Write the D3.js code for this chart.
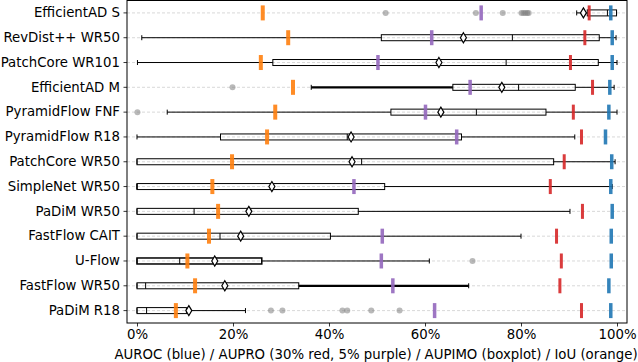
<!DOCTYPE html>
<html>
<head>
<meta charset="utf-8">
<script src="https://cdn.jsdelivr.net/npm/d3@7"></script>
<style>
	body { margin: 0; background: #fff; }
	svg { display: block; font-family: "DejaVu Sans", sans-serif; }
</style>
</head>
<body>
<div id="chart"></div>
<script>
// models, top to bottom
var models = ['EfficientAD S', 'RevDist++ WR50', 'PatchCore WR101', 'EfficientAD M', 'PyramidFlow FNF',
	'PyramidFlow R18', 'PatchCore WR50', 'SimpleNet WR50', 'PaDiM WR50', 'FastFlow CAIT',
	'U-Flow', 'FastFlow WR50', 'PaDiM R18'];

// image level metrics (%)
var auroc   = [98.7, 99.0, 99.0, 98.5, 98.3, 97.6, 98.9, 98.7, 99.0, 98.8, 98.8, 98.3, 98.7];
var aupro30 = [94.2, 93.3, 90.3, 94.9, 90.9, 92.6, 89.0, 86.1, 92.8, 87.4, 88.4, 88.1, 92.6];
var aupro5  = [71.7, 61.4, 50.2, 69.4, 60.1, 66.6, null, 45.2, null, 51.1, 50.9, 53.3, 62.0];
var iou     = [26.2, 31.5, 25.8, 32.5, 28.8, 27.1, 19.8, 15.7, 16.9, 15.0, 10.5, 12.1, 8.1];

// aupimo boxplot stats (%)
var whiskLo = [91.6, 1.0, 0.1, 36.3, 6.3, 0.0, 0.0, 0.0, 0.0, 0.0, 0.0, 0.0, 0.0];
var q1      = [93.8, 50.9, 28.3, 65.8, 52.9, 17.4, 0.0, 0.0, 0.0, 0.0, 0.0, 0.0, 0.0];
var median  = [98.0, 78.2, 76.9, 79.5, 70.7, 43.8, 46.8, 0.0, 11.9, 17.3, 8.9, 1.8, 2.0];
var q3      = [99.9, 96.3, 96.1, 91.3, 85.2, 67.6, 86.8, 51.6, 46.1, 40.3, 26.0, 33.7, 10.3];
var whiskHi = [99.9, 99.8, 100, 99.4, 100, 91.2, 99.6, 99.0, 90.2, 80.0, 60.9, 69.1, 22.6];
var means   = [93.0, 68.0, 62.9, 76.0, 63.3, 44.6, 44.8, 28.1, 23.3, 21.6, 16.2, 18.3, 10.8];
var outliers = [
	[51.8, 70.6, 76.2, 80.1, 80.5, 80.9, 81.3, 81.6],
	[], [], [19.9], [0.1], [], [], [], [], [], [69.9], [],
	[27.9, 30.3, 42.8, 43.8, 48.8, 54.7]
];

var xTicks = [0, 20, 40, 60, 80, 100];

var margin = { top: 0.5, right: 11, bottom: 39, left: 127 };
var width  = 638 - margin.left - margin.right;
var height = 323 - margin.top;

var svg = d3.select('#chart').append('svg')
	.attr('width', 638)
	.attr('height', 362)
	.append('g')
	.attr('transform', 'translate(' + margin.left + ',' + margin.top + ')');

var x = d3.scaleLinear()
	.domain([-2.08, 102.08])
	.range([0, width]);

var y = d3.scaleBand()
	.domain(models)
	.range([0, height]);

var cy = function(i) { return y(models[i]) + y.bandwidth() / 2; };

// thick line bits that show in the original
var thickLo = { 'EfficientAD M': true };
var thickHi = { 'FastFlow WR50': true };

// grid
svg.selectAll('.grid').data(models).enter().append('line')
	.attr('x1', 0).attr('x2', width)
	.attr('y1', function(d, i) { return cy(i); })
	.attr('y2', function(d, i) { return cy(i); })
	.attr('stroke', '#b0b0b0')
	.attr('stroke-width', 0.8)
	.attr('stroke-dasharray', '3,2')
	.attr('opacity', 0.6);

// outliers
models.forEach(function(m, i) {
	svg.selectAll('.out' + i).data(outliers[i]).enter().append('circle')
		.attr('cx', function(d) { return x(d); })
		.attr('cy', cy(i))
		.attr('r', 3)
		.attr('fill', '#808080')
		.attr('opacity', 0.55);
});

// boxplots
var bh = 6;
var box = svg.selectAll('.box').data(models).enter().append('g');

box.append('line')
	.attr('x1', function(d, i) { return x(whiskLo[i]); })
	.attr('x2', function(d, i) { return x(q1[i]); })
	.attr('y1', function(d, i) { return cy(i); })
	.attr('y2', function(d, i) { return cy(i); })
	.attr('stroke', '#000')
	.attr('stroke-width', function(d) { return thickLo[d] ? 2.2 : 1; });

box.append('line')
	.attr('x1', function(d, i) { return x(q3[i]); })
	.attr('x2', function(d, i) { return x(whiskHi[i]); })
	.attr('y1', function(d, i) { return cy(i); })
	.attr('y2', function(d, i) { return cy(i); })
	.attr('stroke', '#000')
	.attr('stroke-width', function(d) { return thickHi[d] ? 2.2 : 1; });

// caps
[whiskLo, whiskHi].forEach(function(arr) {
	box.append('line')
		.attr('x1', function(d, i) { return x(arr[i]); })
		.attr('x2', function(d, i) { return x(arr[i]); })
		.attr('y1', function(d, i) { return cy(i) - 2.5; })
		.attr('y2', function(d, i) { return cy(i) + 2.5; })
		.attr('stroke', '#000')
		.attr('stroke-width', 1);
});

box.append('rect')
	.attr('x', function(d, i) { return x(q1[i]); })
	.attr('width', function(d, i) { return x(q3[i]) - x(q1[i]); })
	.attr('y', function(d, i) { return cy(i) - bh / 2; })
	.attr('height', bh)
	.attr('fill', 'none')
	.attr('stroke', '#000')
	.attr('stroke-width', function(d) { return d === 'U-Flow' ? 1.5 : 1; });

box.append('line')
	.attr('x1', function(d, i) { return x(median[i]); })
	.attr('x2', function(d, i) { return x(median[i]); })
	.attr('y1', function(d, i) { return cy(i) - bh / 2; })
	.attr('y2', function(d, i) { return cy(i) + bh / 2; })
	.attr('stroke', '#000')
	.attr('stroke-width', 1);

// metric markers
var metrics = [
	{ vals: iou, color: '#ff7f0e', w: 4 },
	{ vals: aupro5, color: '#9467bd', w: 3.5 },
	{ vals: aupro30, color: '#d62728', w: 3 },
	{ vals: auroc, color: '#1f77b4', w: 3.5 }
];

metrics.forEach(function(mt) {
	svg.selectAll(null).data(models).enter()
		.filter(function(d, i) { return mt.vals[i] != null; })
		.append('rect')
		.attr('x', function(d) { return x(mt.vals[models.indexOf(d)]) - mt.w / 2; })
		.attr('y', function(d) { return cy(models.indexOf(d)) - 7.5; })
		.attr('width', mt.w)
		.attr('height', 15)
		.attr('fill', mt.color)
		.attr('opacity', 0.9);
});

// means
svg.selectAll('.mean').data(models).enter().append('path')
	.attr('d', 'M0,-5L3,0L0,5L-3,0Z')
	.attr('transform', function(d, i) { return 'translate(' + x(means[i]) + ',' + cy(i) + ')'; })
	.attr('fill', '#fff')
	.attr('stroke', '#000')
	.attr('stroke-width', 1.2);

// axes
var yAxis = svg.append('g')
	.call(d3.axisLeft(y).tickSizeInner(3.5).tickSizeOuter(0).tickPadding(3.5));
var xAxis = svg.append('g')
	.attr('transform', 'translate(0,' + height + ')')
	.call(d3.axisBottom(x).tickValues(xTicks).tickSizeInner(3.5).tickSizeOuter(0).tickPadding(3.5)
		.tickFormat(function(d) { return d + '%'; }));

[xAxis, yAxis].forEach(function(a) {
	a.select('.domain').remove();
	a.selectAll('text').attr('font-size', 13.3).attr('fill', '#000')
		.style('font-family', '"DejaVu Sans", sans-serif');
	a.selectAll('line').attr('stroke', '#000').attr('stroke-width', 0.8);
});

// frame
svg.append('rect')
	.attr('width', width).attr('height', height)
	.attr('fill', 'none')
	.attr('stroke', '#000')
	.attr('stroke-width', 1);

svg.append('text')
	.attr('x', width / 2 - 1)
	.attr('y', height + 35.5)
	.attr('text-anchor', 'middle')
	.attr('font-size', 13.3)
	.text('AUROC (blue) / AUPRO (30% red, 5% purple) / AUPIMO (boxplot) / IoU (orange)');
</script>
</body>
</html>
